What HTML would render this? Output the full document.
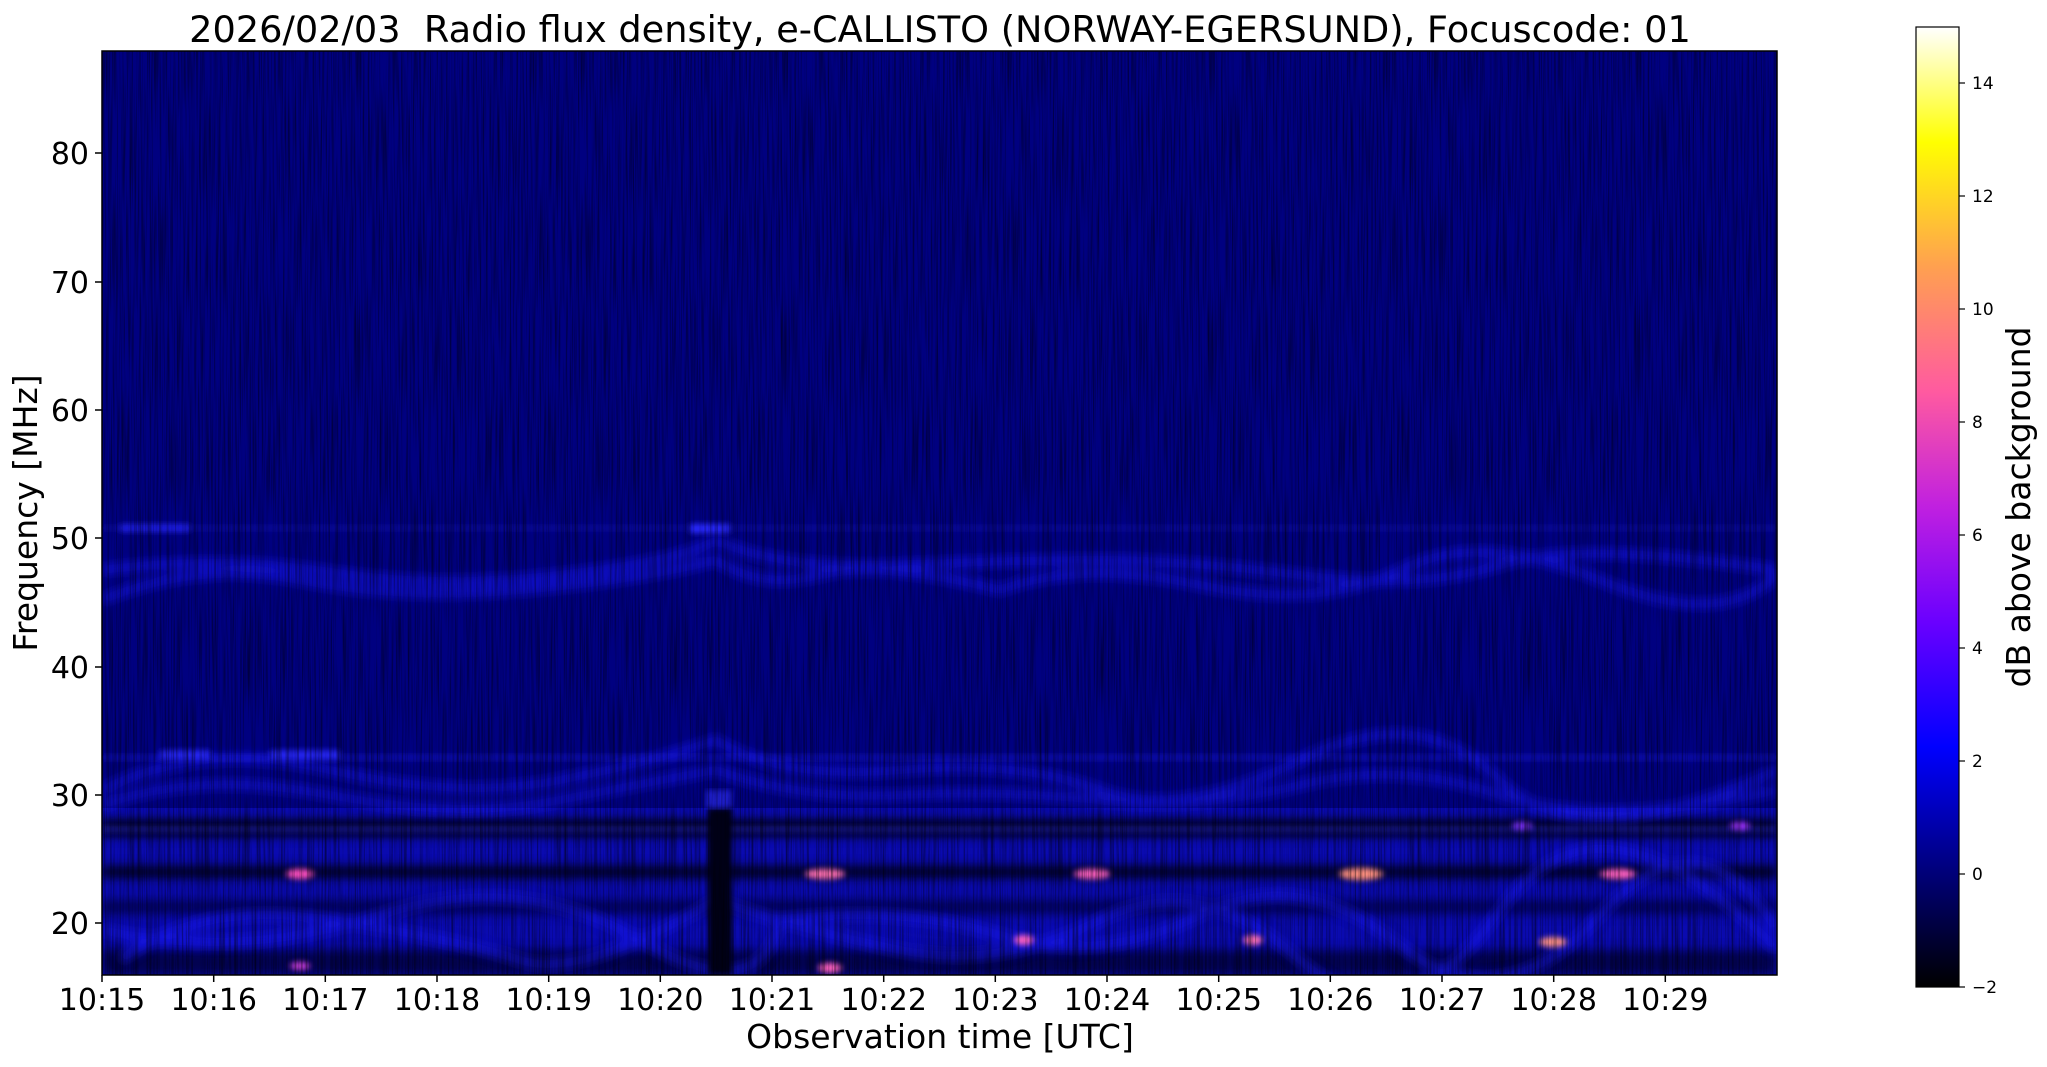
<!DOCTYPE html>
<html><head><meta charset="utf-8"><style>
html,body{margin:0;padding:0;background:#fff;}
svg{display:block;font-family:"DejaVu Sans","Liberation Sans",sans-serif;}
</style></head><body>
<svg width="2047" height="1067" viewBox="0 0 2047 1067" xmlns="http://www.w3.org/2000/svg">
<defs>
<linearGradient id="cb" x1="0" y1="1" x2="0" y2="0">
<stop offset="0" stop-color="#000000"/>
<stop offset="0.12" stop-color="#00007a"/>
<stop offset="0.25" stop-color="#0000ff"/>
<stop offset="0.38" stop-color="#6a00ff"/>
<stop offset="0.5" stop-color="#c020e0"/>
<stop offset="0.62" stop-color="#ff5aa0"/>
<stop offset="0.75" stop-color="#ffa050"/>
<stop offset="0.88" stop-color="#ffff00"/>
<stop offset="1" stop-color="#ffffff"/>
</linearGradient>
<filter id="stripes" x="0" y="0" width="100%" height="100%">
<feTurbulence type="fractalNoise" baseFrequency="0.6 0.01" numOctaves="2" seed="3"/>
<feColorMatrix type="matrix" values="0 0 0 0 0  0 0 0 0 0  0 0 0 0 0  0 0 0 -1.2 0.7"/>
</filter>
<filter id="blur"><feGaussianBlur stdDeviation="3"/></filter>
<filter id="blur2"><feGaussianBlur stdDeviation="5"/></filter>
<clipPath id="plot"><rect x="102" y="51" width="1675" height="924"/></clipPath>
</defs>
<text x="940" y="42" font-size="36.7" text-anchor="middle" xml:space="preserve">2026/02/03&#160; Radio flux density, e-CALLISTO (NORWAY-EGERSUND), Focuscode: 01</text>
<g clip-path="url(#plot)">
<rect x="102" y="51" width="1675" height="924" fill="#000080"/>
<rect x="102" y="808" width="1675" height="167" fill="#0a0ab0"/>
<g filter="url(#blur2)">
<rect x="102" y="820" width="1675" height="16" fill="#000010"/>
<rect x="102" y="866" width="1675" height="12" fill="#000020"/>
<rect x="102" y="900" width="1675" height="14" fill="#00004a" opacity="0.8"/>
<rect x="102" y="950" width="1675" height="25" fill="#00003a" opacity="0.8"/>
</g>
<g fill="none" stroke="#1a1aff" stroke-width="9" filter="url(#blur2)" opacity="0.6">
<path d="M102,600 Q200,560 300,580 T520,590 T716,560 Q760,590 820,575 T1000,590 Q1080,560 1200,585 T1400,570 T1600,580 T1777,575"/>
<path d="M102,570 Q220,555 330,572 T560,575 T716,540 Q780,570 900,565 T1100,560 T1300,575 T1500,565 T1777,570"/>
<path d="M102,790 Q200,740 330,770 T560,780 T716,740 Q780,780 900,770 T1100,790 T1300,760 T1500,780 T1777,770"/>
<path d="M102,805 Q200,770 330,795 T560,800 T716,770 Q800,800 900,795 T1100,800 T1300,785 T1500,795 T1777,790"/>
<path d="M120,960 Q200,900 330,920 T520,960 T716,900 Q800,930 900,950 T1100,920 T1300,960 T1500,910 T1777,950"/>
<path d="M102,930 Q240,960 380,915 T640,940 T780,920 Q900,905 1000,935 T1200,915 T1400,945 T1600,915 T1777,930"/>
</g>
<g fill="#2a2aff" filter="url(#blur)">
<rect x="102" y="755" width="1675" height="5" opacity="0.4"/>
<rect x="102" y="526" width="1675" height="4" opacity="0.25"/>
<rect x="120" y="524" width="70" height="8" opacity="0.7"/>
<rect x="690" y="524" width="40" height="9"/>
<rect x="160" y="750" width="50" height="10" opacity="0.8"/>
<rect x="270" y="750" width="70" height="10" opacity="0.8"/>
<rect x="102" y="826" width="1675" height="6" opacity="0.5"/>
</g>
<rect x="708" y="808" width="24" height="167" fill="#000018" filter="url(#blur)"/>
<rect x="706" y="790" width="26" height="18" fill="#3030ff" opacity="0.6" filter="url(#blur)"/>
<g filter="url(#blur)">
<ellipse cx="300" cy="874" rx="14" ry="5" fill="#ff50c0"/>
<ellipse cx="825" cy="874" rx="20" ry="5" fill="#ff70b0"/>
<ellipse cx="1092" cy="874" rx="18" ry="5" fill="#ff60c0"/>
<ellipse cx="1361" cy="874" rx="22" ry="6" fill="#ff9080"/>
<ellipse cx="1618" cy="874" rx="18" ry="5" fill="#ff60c0"/>
<ellipse cx="1024" cy="940" rx="10" ry="5" fill="#ff60c0"/>
<ellipse cx="1253" cy="940" rx="10" ry="5" fill="#ff70b0"/>
<ellipse cx="1553" cy="942" rx="14" ry="5" fill="#ff9080"/>
<ellipse cx="830" cy="968" rx="12" ry="5" fill="#ff60c0"/>
<ellipse cx="300" cy="966" rx="10" ry="4" fill="#d040e0"/>
<ellipse cx="1740" cy="826" rx="10" ry="4" fill="#a030ff"/>
<ellipse cx="1522" cy="826" rx="10" ry="4" fill="#8030ff"/>
</g>
<rect x="102" y="51" width="1675" height="924" filter="url(#stripes)"/>
</g>
<rect x="102" y="51" width="1675" height="924" fill="none" stroke="#000" stroke-width="1.5"/>
<g font-size="30" text-anchor="end">
<line x1="95" y1="923" x2="102" y2="923" stroke="#000" stroke-width="1.5"/><text x="89" y="934">20</text>
<line x1="95" y1="795" x2="102" y2="795" stroke="#000" stroke-width="1.5"/><text x="89" y="806">30</text>
<line x1="95" y1="667" x2="102" y2="667" stroke="#000" stroke-width="1.5"/><text x="89" y="678">40</text>
<line x1="95" y1="538" x2="102" y2="538" stroke="#000" stroke-width="1.5"/><text x="89" y="549">50</text>
<line x1="95" y1="410" x2="102" y2="410" stroke="#000" stroke-width="1.5"/><text x="89" y="421">60</text>
<line x1="95" y1="282" x2="102" y2="282" stroke="#000" stroke-width="1.5"/><text x="89" y="293">70</text>
<line x1="95" y1="153" x2="102" y2="153" stroke="#000" stroke-width="1.5"/><text x="89" y="164">80</text>
</g>
<g font-size="30" text-anchor="middle" stroke-width="1.5">
<g stroke="#000">
<line x1="102" y1="975" x2="102" y2="982"/><line x1="213.7" y1="975" x2="213.7" y2="982"/><line x1="325.3" y1="975" x2="325.3" y2="982"/><line x1="437" y1="975" x2="437" y2="982"/><line x1="548.7" y1="975" x2="548.7" y2="982"/><line x1="660.3" y1="975" x2="660.3" y2="982"/><line x1="772" y1="975" x2="772" y2="982"/><line x1="883.7" y1="975" x2="883.7" y2="982"/><line x1="995.3" y1="975" x2="995.3" y2="982"/><line x1="1107" y1="975" x2="1107" y2="982"/><line x1="1218.7" y1="975" x2="1218.7" y2="982"/><line x1="1330.3" y1="975" x2="1330.3" y2="982"/><line x1="1442" y1="975" x2="1442" y2="982"/><line x1="1553.7" y1="975" x2="1553.7" y2="982"/><line x1="1665.3" y1="975" x2="1665.3" y2="982"/>
</g>
<text x="102" y="1010">10:15</text><text x="213.7" y="1010">10:16</text><text x="325.3" y="1010">10:17</text><text x="437" y="1010">10:18</text><text x="548.7" y="1010">10:19</text><text x="660.3" y="1010">10:20</text><text x="772" y="1010">10:21</text><text x="883.7" y="1010">10:22</text><text x="995.3" y="1010">10:23</text><text x="1107" y="1010">10:24</text><text x="1218.7" y="1010">10:25</text><text x="1330.3" y="1010">10:26</text><text x="1442" y="1010">10:27</text><text x="1553.7" y="1010">10:28</text><text x="1665.3" y="1010">10:29</text>
</g>
<text x="940" y="1048" font-size="33" text-anchor="middle">Observation time [UTC]</text>
<text transform="translate(37,513) rotate(-90)" font-size="33" text-anchor="middle">Frequency [MHz]</text>
<rect x="1916" y="27" width="43" height="960" fill="url(#cb)" stroke="#000" stroke-width="1.2"/>
<g stroke="#000" stroke-width="1.2">
<line x1="1959" y1="987" x2="1965" y2="987"/><line x1="1959" y1="874" x2="1965" y2="874"/><line x1="1959" y1="761" x2="1965" y2="761"/><line x1="1959" y1="648" x2="1965" y2="648"/><line x1="1959" y1="535" x2="1965" y2="535"/><line x1="1959" y1="422" x2="1965" y2="422"/><line x1="1959" y1="309" x2="1965" y2="309"/><line x1="1959" y1="196" x2="1965" y2="196"/><line x1="1959" y1="83" x2="1965" y2="83"/>
</g>
<g font-size="17">
<text x="1972" y="993">−2</text><text x="1972" y="880">0</text><text x="1972" y="767">2</text><text x="1972" y="654">4</text><text x="1972" y="541">6</text><text x="1972" y="428">8</text><text x="1972" y="315">10</text><text x="1972" y="202">12</text><text x="1972" y="89">14</text>
</g>
<text transform="translate(2030,507) rotate(-90)" font-size="33" text-anchor="middle">dB above background</text>
</svg>
</body></html>
